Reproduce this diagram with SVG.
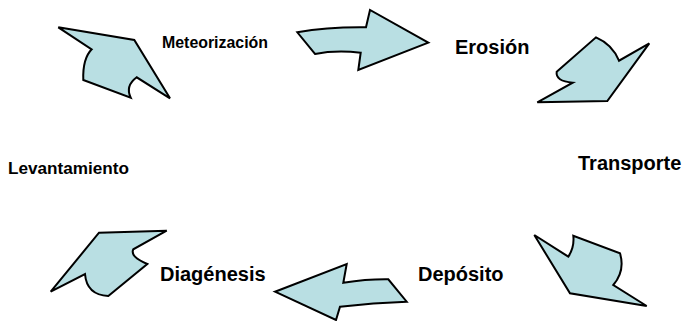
<svg xmlns="http://www.w3.org/2000/svg" width="687" height="321" viewBox="0 0 687 321">
<style>
.arr{fill:#b9dfe3;stroke:#000;stroke-width:2;stroke-linejoin:miter}
.t{font-family:"Liberation Sans",Arial,sans-serif;font-weight:bold;fill:#000}
</style>
<rect width="687" height="321" fill="#fff"/>
<g id="connectors">
<path id="a1" class="arr" d="M58.3,27.3 L134.3,40 L170,98.3 L136.7,77.3 Q125,86 130.7,97.7 L83.3,80 Q82.5,58.7 91.7,49.3 Z"/>
<path id="a2" class="arr" d="M297.3,32.3 Q328.3,26.8 366,27.3 L370,10 L428.3,42.7 L358.3,70 L360.7,52.7 Q335.3,50 315,54 Z"/>
<path id="a3" class="arr" d="M596,37.3 Q612.5,44.4 619,60.7 L649.3,43.3 L607.3,101 L537.3,102.3 L572.7,82.7 Q555.3,81.4 556.7,71.7 Z"/>
<path id="a4" class="arr" d="M534.3,235 L568.3,256.7 Q574.6,247.2 573.3,235.7 L620,253.3 Q625.3,270.8 613.3,285 L646.7,306 L570,293.3 Z"/>
<path id="a5" class="arr" d="M275,291.7 L346.7,264 L343.3,282.7 Q367.5,279 388.3,279.3 L406.7,301.7 Q373.3,302.5 340,306.7 L336,320 Z"/>
<path id="a6" class="arr" d="M99,232.7 L166.7,230.7 L133.3,249.3 Q129.7,256.7 147.3,264 L108.3,296 Q86.7,295 85,274 L50.7,291.7 Z"/>
</g>
<g id="meteorizacion"><text class="t" x="162" y="48" font-size="16" textLength="106" lengthAdjust="spacingAndGlyphs">Meteorización</text></g>
<g id="erosion"><text class="t" x="455" y="54" font-size="20">Erosión</text></g>
<g id="transporte"><text class="t" x="578" y="170" font-size="20">Transporte</text></g>
<g id="levantamiento"><text class="t" x="8" y="174" font-size="16" textLength="121" lengthAdjust="spacingAndGlyphs">Levantamiento</text></g>
<g id="diagenesis"><text class="t" x="160" y="281" font-size="20">Diagénesis</text></g>
<g id="deposito"><text class="t" x="418" y="281" font-size="20">Depósito</text></g>
</svg>
